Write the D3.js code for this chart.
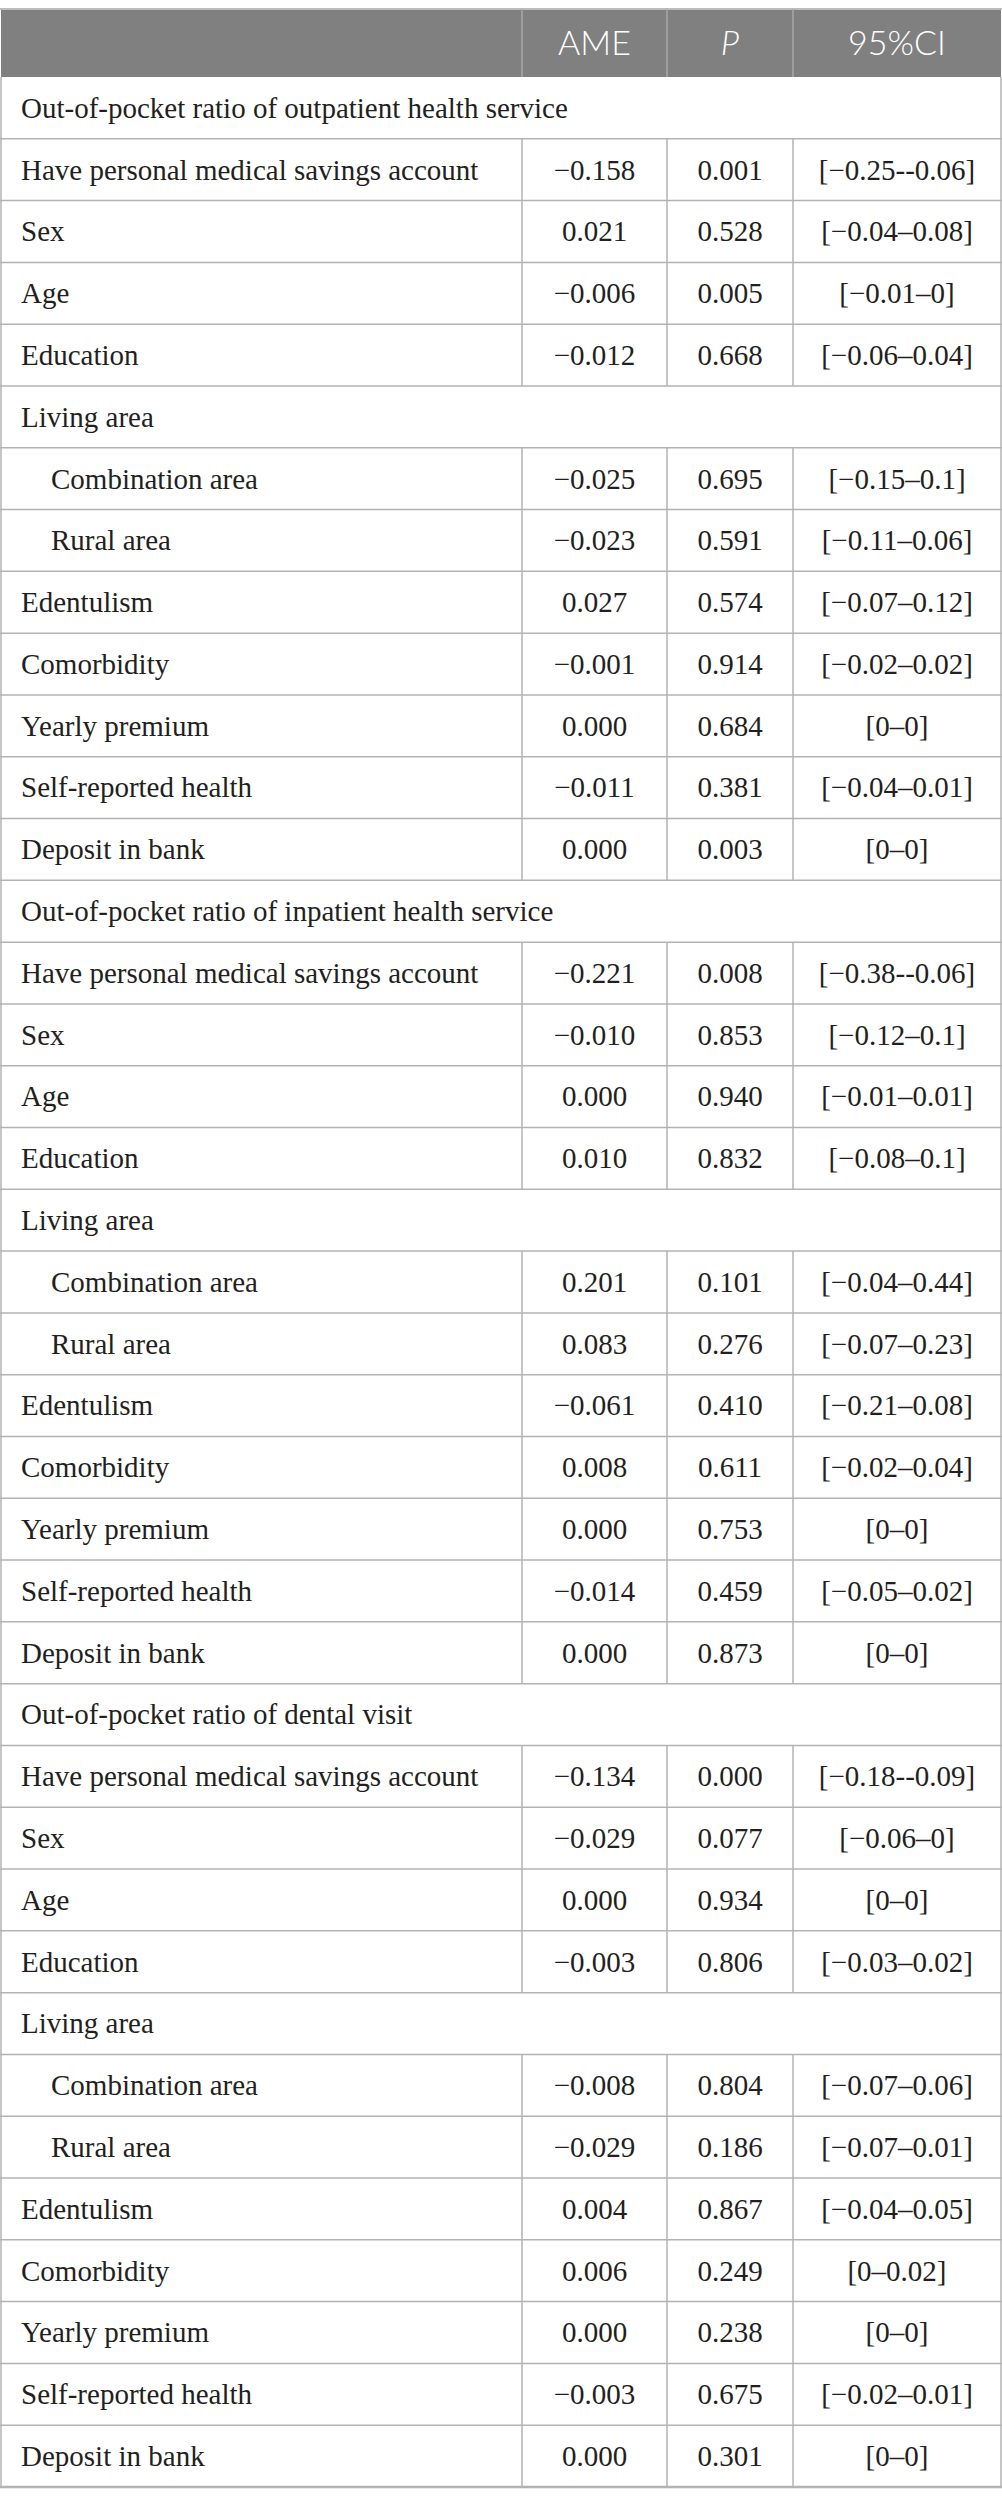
<!DOCTYPE html>
<html>
<head>
<meta charset="utf-8">
<title>AME table</title>
<script src="https://d3js.org/d3.v7.min.js"></script>
<style>
  body { margin: 0; background: #fff; }
</style>
</head>
<body>
<svg id="table" width="1002" height="2505"></svg>
<script>
// ---- data ----
var headers = ["", "AME", "P", "95%CI"];
var sections = [
  "Out-of-pocket ratio of outpatient health service",
  "Out-of-pocket ratio of inpatient health service",
  "Out-of-pocket ratio of dental visit"
];
var variables = [
  "Have personal medical savings account", "Sex", "Age", "Education", "Living area",
  "Combination area", "Rural area", "Edentulism", "Comorbidity", "Yearly premium",
  "Self-reported health", "Deposit in bank"
];
var subRows = ["Combination area", "Rural area"];   // indented
var groupRows = ["Living area"];                     // no values

// one array per section; null where the row has no values
var outpatientAME = ["−0.158", "0.021", "−0.006", "−0.012", null, "−0.025", "−0.023", "0.027", "−0.001", "0.000", "−0.011", "0.000"];
var outpatientP   = ["0.001", "0.528", "0.005", "0.668", null, "0.695", "0.591", "0.574", "0.914", "0.684", "0.381", "0.003"];
var outpatientCI  = ["[−0.25--0.06]", "[−0.04–0.08]", "[−0.01–0]", "[−0.06–0.04]", null, "[−0.15–0.1]", "[−0.11–0.06]", "[−0.07–0.12]", "[−0.02–0.02]", "[0–0]", "[−0.04–0.01]", "[0–0]"];

var inpatientAME = ["−0.221", "−0.010", "0.000", "0.010", null, "0.201", "0.083", "−0.061", "0.008", "0.000", "−0.014", "0.000"];
var inpatientP   = ["0.008", "0.853", "0.940", "0.832", null, "0.101", "0.276", "0.410", "0.611", "0.753", "0.459", "0.873"];
var inpatientCI  = ["[−0.38--0.06]", "[−0.12–0.1]", "[−0.01–0.01]", "[−0.08–0.1]", null, "[−0.04–0.44]", "[−0.07–0.23]", "[−0.21–0.08]", "[−0.02–0.04]", "[0–0]", "[−0.05–0.02]", "[0–0]"];

var dentalAME = ["−0.134", "−0.029", "0.000", "−0.003", null, "−0.008", "−0.029", "0.004", "0.006", "0.000", "−0.003", "0.000"];
var dentalP   = ["0.000", "0.077", "0.934", "0.806", null, "0.804", "0.186", "0.867", "0.249", "0.238", "0.675", "0.301"];
var dentalCI  = ["[−0.18--0.09]", "[−0.06–0]", "[0–0]", "[−0.03–0.02]", null, "[−0.07–0.06]", "[−0.07–0.01]", "[−0.04–0.05]", "[0–0.02]", "[0–0]", "[−0.02–0.01]", "[0–0]"];

var sectionValues = [
  [outpatientAME, outpatientP, outpatientCI],
  [inpatientAME, inpatientP, inpatientCI],
  [dentalAME, dentalP, dentalCI]
];

// ---- build rows ----
var rows = [];
sections.forEach(function(title, s) {
  rows.push({type: "section", label: title});
  variables.forEach(function(v, i) {
    var isGroup = groupRows.indexOf(v) >= 0;
    rows.push({
      type: isGroup ? "group" : "value",
      label: v,
      indent: subRows.indexOf(v) >= 0,
      cells: isGroup ? [] : sectionValues[s].map(function(col) { return col[i]; })
    });
  });
});

// ---- layout ----
var svg = d3.select("#table");
var headTop = 9, headBottom = 77, tableBottom = 2487;
var colEdges = [1, 522, 667, 793, 1001];
var lineColor = "#b3b3b3";
var serif = "'Liberation Serif', 'DejaVu Serif', 'Times New Roman', Times, serif";
var sans = "Lato, 'Open Sans', sans-serif";

var y = d3.scaleBand()
  .domain(d3.range(rows.length))
  .range([headBottom, tableBottom]);

var colX = d3.scaleOrdinal().domain(d3.range(4)).range(colEdges.slice(0, 4));
var colW = function(i) { return colEdges[i + 1] - colEdges[i]; };

// header
svg.append("rect")
  .attr("x", colEdges[0]).attr("y", headTop)
  .attr("width", colEdges[4] - colEdges[0]).attr("height", headBottom - headTop)
  .attr("fill", "#808080");
svg.append("line")
  .attr("x1", 0).attr("x2", 1002).attr("y1", headTop).attr("y2", headTop)
  .attr("stroke", "#bdbdbd").attr("stroke-width", 2);

svg.selectAll(".head-div")
  .data(colEdges.slice(1, 4))
  .enter().append("line")
  .attr("x1", function(d) { return d; }).attr("x2", function(d) { return d; })
  .attr("y1", headTop).attr("y2", headBottom)
  .attr("stroke", "#a8a8a8").attr("stroke-width", 1.5);

svg.selectAll(".head-text")
  .data(headers)
  .enter().append("text")
  .attr("x", function(d, i) { return colX(i) + colW(i) / 2; })
  .attr("y", (headTop + headBottom) / 2)
  .attr("dy", "0.36em")
  .attr("text-anchor", "middle")
  .attr("fill", "#fff")
  .attr("font-family", sans)
  .attr("font-weight", 300)
  .attr("font-size", 34)
  .attr("font-style", function(d) { return d === "P" ? "italic" : "normal"; })
  .text(function(d) { return d; });

// body rows
var g = svg.selectAll(".row")
  .data(rows)
  .enter().append("g")
  .attr("class", "row")
  .attr("transform", function(d, i) { return "translate(0," + y(i) + ")"; });

var h = y.bandwidth();

// row separators (bottom of each row)
g.append("line")
  .attr("x1", 0).attr("x2", 1002)
  .attr("y1", h).attr("y2", h)
  .attr("stroke", lineColor)
  .attr("stroke-width", function(d, i) { return i === rows.length - 1 ? 2.5 : 1.5; });

// vertical dividers only for value rows
g.filter(function(d) { return d.type === "value"; })
  .selectAll(".vdiv")
  .data(colEdges.slice(1, 4))
  .enter().append("line")
  .attr("x1", function(d) { return d; }).attr("x2", function(d) { return d; })
  .attr("y1", 0).attr("y2", h)
  .attr("stroke", lineColor).attr("stroke-width", 1.5);

// outer left/right borders
svg.selectAll(".outer")
  .data([colEdges[0], colEdges[4]])
  .enter().append("line")
  .attr("x1", function(d) { return d; }).attr("x2", function(d) { return d; })
  .attr("y1", headBottom).attr("y2", tableBottom)
  .attr("stroke", lineColor).attr("stroke-width", 1.5);

// labels
g.append("text")
  .attr("font-family", serif)
  .attr("font-size", 29)
  .attr("fill", "#231f20")
  .attr("x", function(d) { return d.indent ? 51 : 21; })
  .attr("y", h / 2)
  .attr("dy", "0.34em")
  .text(function(d) { return d.label; });

// value cells
g.filter(function(d) { return d.type === "value"; })
  .selectAll(".cell")
  .data(function(d) { return d.cells; })
  .enter().append("text")
  .attr("font-family", serif)
  .attr("font-size", 29)
  .attr("fill", "#231f20")
  .attr("x", function(d, i) { return colX(i + 1) + colW(i + 1) / 2; })
  .attr("y", h / 2)
  .attr("dy", "0.34em")
  .attr("text-anchor", "middle")
  .text(function(d) { return d; });
</script>
</body>
</html>
